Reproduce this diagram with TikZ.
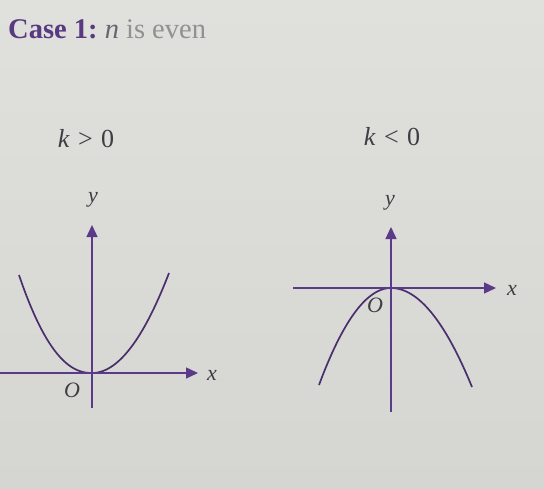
\documentclass[tikz,border=0pt]{standalone}
\usepackage{fontspec}
\setmainfont{Liberation Serif}
\usetikzlibrary{arrows.meta}
\definecolor{paper}{RGB}{224,224,220}
\definecolor{paperdark}{RGB}{213,214,209}
\definecolor{axiscol}{RGB}{92,58,138}
\definecolor{headcol}{RGB}{88,58,128}
\definecolor{labelcol}{RGB}{62,62,68}
\definecolor{greytext}{RGB}{145,145,145}
\definecolor{ncol}{RGB}{105,100,110}
\tikzset{
  axisline/.style={draw=axiscol, line width=1.4pt, -{Triangle[length=12pt,width=11pt]}},
  curveline/.style={draw=axiscol!80!black, line width=1.7pt},
  axlabel/.style={text=labelcol, font=\fontsize{22}{24}\selectfont\itshape, inner sep=0pt},
  klabel/.style={text=labelcol, font=\fontsize{26}{28}\selectfont, inner sep=0pt, anchor=base},
}
\begin{document}
\begin{tikzpicture}[x=1pt,y=-1pt]
\useasboundingbox (0,0) rectangle (544,488);
\shade[top color=paper, bottom color=paperdark] (0,0) rectangle (544,488);
% heading
\node[anchor=base west, inner sep=0pt, font=\fontsize{28.5}{30}\selectfont] (head) at (8,38)
  {\textcolor{headcol}{\bfseries Case 1:}\ \textcolor{ncol}{\itshape n}\ \textcolor{greytext}{is even}};
% case labels
\node[klabel] (kpos) at (86,147) {\textit{k}\hspace{0.32em}>\hspace{0.32em}0};
\node[klabel] (kneg) at (392,145) {\textit{k}\hspace{0.32em}<\hspace{0.32em}0};
% left graph
\coordinate (lxs) at (0,373);
\coordinate (lxe) at (198,373);
\coordinate (lys) at (92,408);
\coordinate (lye) at (92,225);
\draw[curveline] plot[domain=73:0.01,samples=70] ({92-\x},{373-98*(\x/73)^2.2})
  -- plot[domain=0.01:77,samples=70] ({92+\x},{373-100*(\x/77)^2});
\draw[axisline] (lxs) -- (lxe);
\draw[axisline] (lys) -- (lye);
\node[axlabel] (ly) at (93,200) {y};
\node[axlabel] (lx) at (212,375) {x};
\node[axlabel] (lo) at (72,390) {O};
% right graph
\coordinate (rxs) at (293,288);
\coordinate (rxe) at (496,288);
\coordinate (rys) at (391,412);
\coordinate (rye) at (391,227);
\draw[curveline] plot[domain=72:0.01,samples=70] ({391-\x},{288+97*(\x/72)^2})
  -- plot[domain=0.01:81,samples=70] ({391+\x},{288+99*(\x/81)^2});
\draw[axisline] (rxs) -- (rxe);
\draw[axisline] (rys) -- (rye);
\node[axlabel] (ry) at (390,203) {y};
\node[axlabel] (rx) at (512,290) {x};
\node[axlabel] (ro) at (375,305) {O};
\end{tikzpicture}
\end{document}
